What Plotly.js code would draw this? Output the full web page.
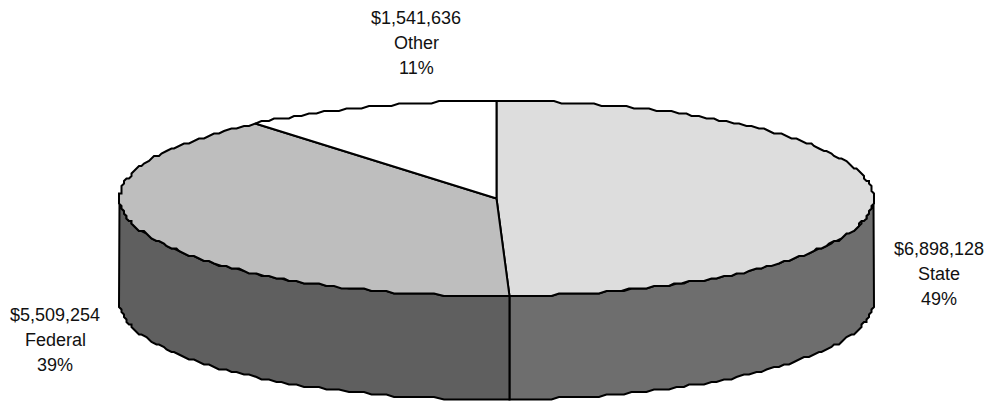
<!DOCTYPE html>
<html><head><meta charset="utf-8">
<script src="https://cdn.plot.ly/plotly-3.0.1.min.js"></script>
<style>html,body{margin:0;padding:0;background:#fff}#c{width:990px;height:401px}</style>
</head><body><div id="c"></div>
<script>
const sliceNames = ["State", "Federal", "Other"];
const sliceValues = [6898128, 5509254, 1541636];
const topColors = ["#DDDDDD", "#BEBEBE", "#FFFFFF"];
const sideColors = ["#6E6E6E", "#5F5F5F", "#7F7F7F"];

const cx = 496.5, cy = 198.5, rx = 377, ry = 97.5, depth = 103.5, grid = 2.5;
const labelPos = [[939, 249], [55, 315], [416, 18]];
const lineGap = 25;

const total = sliceValues.reduce((a, b) => a + b, 0);
const snap = v => Math.round(v / grid) * grid;
function arc(a0, a1, dy) {
  const xs = [], ys = [];
  const n = Math.max(2, Math.ceil((a1 - a0) / 0.022));
  for (let i = 0; i <= n; i++) {
    const a = a0 + (a1 - a0) * i / n;
    const end = i === 0 || i === n;
    const x = cx + rx * Math.sin(a), y = cy - ry * Math.cos(a);
    const px = end ? x : cx + snap(x - cx), py = (end ? y : cy + snap(y - cy)) + dy;
    if (!xs.length || xs[xs.length - 1] !== px || ys[ys.length - 1] !== py) { xs.push(px); ys.push(py); }
  }
  return [xs, ys];
}
const poly = (x, y, fill) => ({
  x, y, type: "scatter", mode: "lines", fill: "toself", fillcolor: fill,
  line: { color: "#000", width: 2, shape: "linear" }, hoverinfo: "skip", showlegend: false
});

const sides = [], tops = [];
let start = 0;
sliceValues.forEach((v, i) => {
  const end = start + v / total * 2 * Math.PI;
  const [tx, ty] = arc(start, end, 0);
  tops.push(poly([cx, ...tx, cx], [cy, ...ty, cy], topColors[i]));
  const s0 = Math.max(start, Math.PI / 2), s1 = Math.min(end, 3 * Math.PI / 2);
  if (s1 > s0) {
    const [ax, ay] = arc(s0, s1, 0), [bx, by] = arc(s0, s1, depth);
    sides.push(poly([...ax, ...bx.slice().reverse(), ax[0]], [...ay, ...by.slice().reverse(), ay[0]], sideColors[i]));
  }
  start = end;
});

const annotations = [];
sliceValues.forEach((v, i) => {
  const lines = ["$" + v.toLocaleString("en-US"), sliceNames[i], Math.round(v / total * 100) + "%"];
  lines.forEach((t, k) => annotations.push({
    x: labelPos[i][0], y: labelPos[i][1] + k * lineGap, xref: "x", yref: "y", text: t, showarrow: false,
    xanchor: "center", yanchor: "middle", font: { family: "Liberation Sans, Arial, sans-serif", size: 18, color: "#111" }
  }));
});

Plotly.newPlot("c", [...sides, ...tops], {
  width: 990, height: 401, margin: { l: 0, r: 0, t: 0, b: 0 },
  paper_bgcolor: "#fff", plot_bgcolor: "#fff", showlegend: false,
  xaxis: { range: [0, 990], visible: false, fixedrange: true },
  yaxis: { range: [401, 0], visible: false, fixedrange: true },
  annotations
}, { displayModeBar: false, staticPlot: true });
</script></body></html>
